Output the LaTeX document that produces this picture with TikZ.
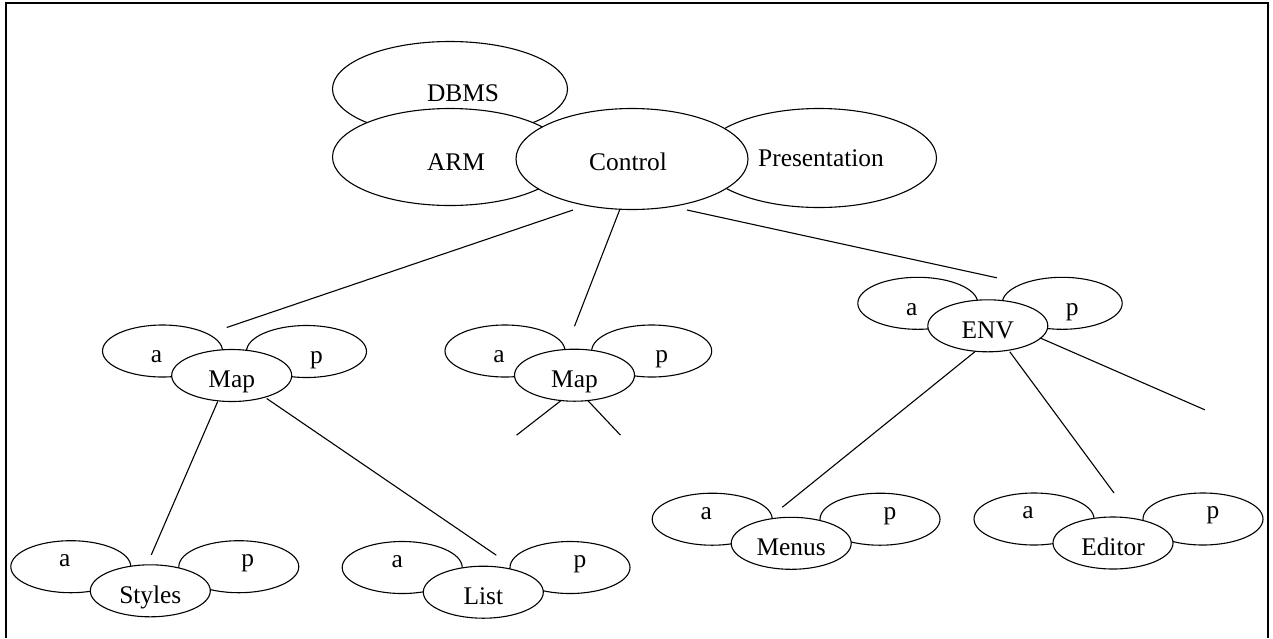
\documentclass[tikz,border=0pt]{standalone}
\usepackage{fontspec}
\setmainfont{Liberation Serif}
\usetikzlibrary{calc,shapes.geometric}
% shift a label sideways by half of the kern, without widening its box
\newcommand\nudge[2]{\makebox[0pt]{\kern#1\relax#2}}

\begin{document}
\begin{tikzpicture}[x=1pt,y=-1pt,
  every node/.style={font=\fontsize{25.4}{30}\selectfont},
  oval/.style={draw,fill=white,ellipse,inner sep=0pt,line width=1.1pt},
  leaf/.style={oval,minimum width=120pt,minimum height=52pt},
  lo/.style={text height=23.6pt,text depth=0pt},
  hi/.style={text height=0pt,text depth=0.4pt},
  hub/.style={leaf,text height=24.8pt,text depth=0pt},
  link/.style={line width=1.1pt}]

\useasboundingbox (0,0) rectangle (1273,638);

% open frame
\draw[line width=1.6pt] (6,638) -- (6,3) -- (1268,3) -- (1268,638);

% top cluster
\node[oval,minimum width=235pt,minimum height=95pt,text height=24.8pt,text depth=0pt] (dbms) at (450,89) {\nudge{26pt}{DBMS}};
\node[oval,minimum width=235pt,minimum height=97pt,text height=26.8pt,text depth=0pt] (arm) at (450,157) {\nudge{12pt}{ARM}};
\node[oval,minimum width=235pt,minimum height=99pt,text height=16.8pt,text depth=0pt] (pres) at (819,158) {\nudge{4pt}{Presentation}};
\node[oval,minimum width=232pt,minimum height=101pt,text height=22.8pt,text depth=0pt] (ctl) at (632,159) {\nudge{-8pt}{Control}};

% left Map
\node[leaf,lo] (m1a) at (162.5,351) {\nudge{-12pt}{a}};
\node[leaf,lo] (m1p) at (306.5,351.5) {\nudge{20pt}{p}};
\node[hub] (m1) at (231.7,375.5) {Map};

% middle Map
\node[leaf,lo] (m2a) at (505,351) {\nudge{-12pt}{a}};
\node[leaf,lo] (m2p) at (651.7,351) {\nudge{20pt}{p}};
\node[hub] (m2) at (574.5,375.2) {Map};

% ENV
\node[leaf,lo] (enva) at (917.8,303.3) {\nudge{-12pt}{a}};
\node[leaf,lo] (envp) at (1062.2,303.3) {\nudge{20pt}{p}};
\node[hub] (env) at (987.8,325.8) {ENV};

% Styles
\node[leaf,hi] (stya) at (70.8,566.7) {\nudge{-12pt}{a}};
\node[leaf,hi] (styp) at (238.8,566.7) {\nudge{18pt}{p}};
\node[hub] (sty) at (150.3,590.8) {Styles};

% List
\node[leaf,hi] (lsta) at (402.2,567.5) {\nudge{-10pt}{a}};
\node[leaf,hi] (lstp) at (570,567.5) {\nudge{20pt}{p}};
\node[hub] (lst) at (483.3,592.2) {List};

% Menus
\node[leaf,hi] (mena) at (712.2,519.2) {\nudge{-12pt}{a}};
\node[leaf,hi] (menp) at (880,519.2) {\nudge{20pt}{p}};
\node[hub] (men) at (791.2,543.3) {Menus};

% Editor
\node[leaf,hi] (edta) at (1034,519) {\nudge{-12pt}{a}};
\node[leaf,hi] (edtp) at (1203,519) {\nudge{20pt}{p}};
\node[hub] (edt) at (1113,543) {Editor};

% branches
\draw[link] ($(ctl)+(-59,51)$) -- ($(m1)+(-5,-48)$);
\draw[link] ($(ctl)+(-12,50)$) -- ($(m2)+(0,-49)$);
\draw[link] ($(ctl)+(55,51)$) -- ($(env)+(9,-48)$);

\draw[link] ($(m1)+(-14,26)$) -- ($(sty)+(1,-36)$);
\draw[link] ($(m1)+(35,23)$) -- ($(lst)+(13,-37)$);

\coordinate (m2-l) at ($(m2)+(-58,60)$);
\coordinate (m2-r) at ($(m2)+(46,60)$);
\draw[link] ($(m2)+(-13,25)$) -- (m2-l);
\draw[link] ($(m2)+(13,25)$) -- (m2-r);

\coordinate (env-r) at ($(env)+(217,84)$);
\draw[link] ($(env)+(-13,26)$) -- ($(men)+(-9,-36)$);
\draw[link] ($(env)+(22,26)$) -- ($(edt)+(1,-50)$);
\draw[link] ($(env)+(52,12)$) -- (env-r);

\end{tikzpicture}
\end{document}
